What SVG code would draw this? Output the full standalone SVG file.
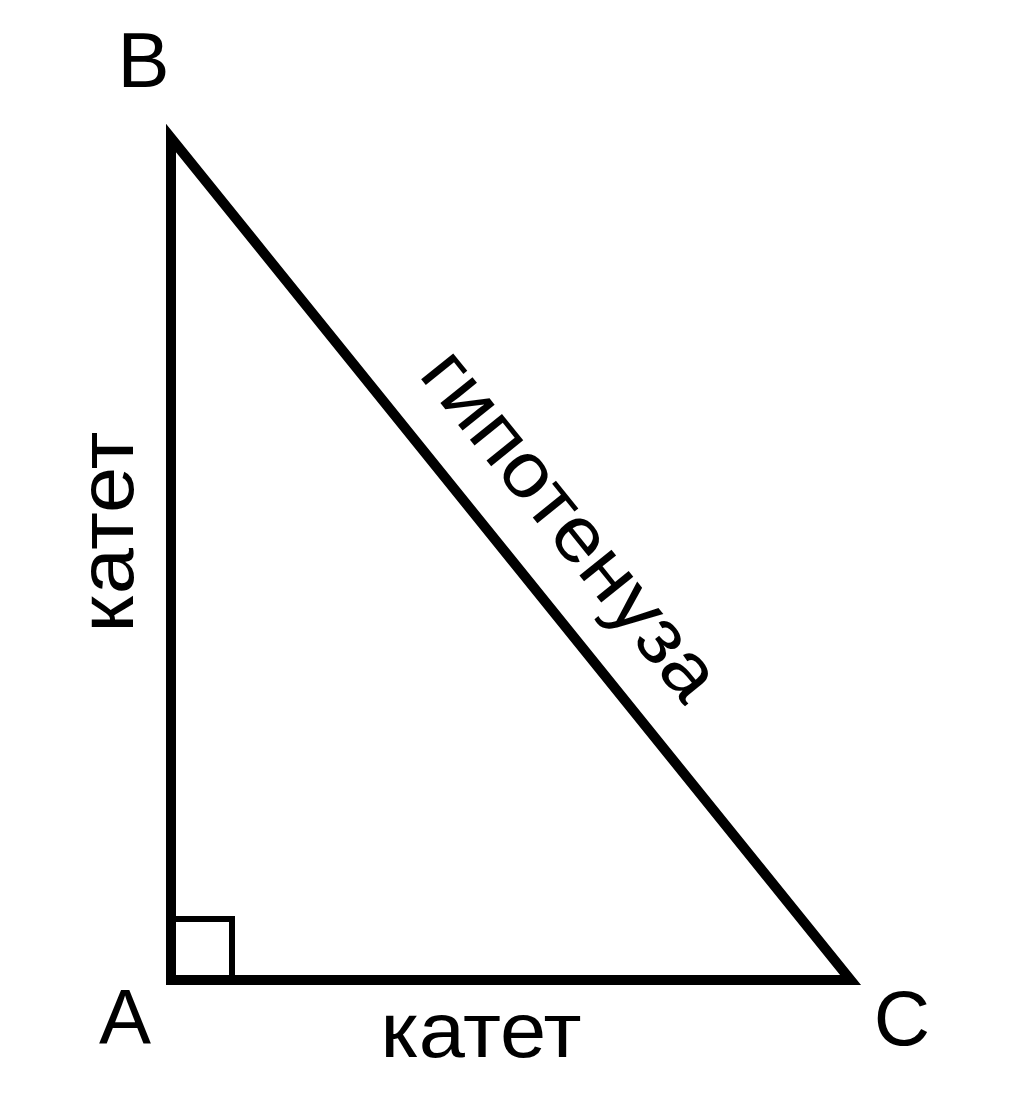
<svg xmlns="http://www.w3.org/2000/svg" width="1014" height="1094" viewBox="0 0 1014 1094">
<style>
.lbl{font-family:"Liberation Sans","Noto Sans",sans-serif;font-size:78px;fill:#000;text-anchor:middle}
.edge{fill:none;stroke:#000;stroke-linejoin:miter;stroke-miterlimit:10}
</style>
<rect width="1014" height="1094" fill="#fff"/>
<g id="connectors">
<polygon class="edge" points="171,980 171,138 850.6,980" stroke-width="10"/>
<path id="right-angle" class="edge" d="M171,919 H232 V980" stroke-width="6"/>
</g>
<g id="node-B"><text class="lbl" x="143.5" y="87">B</text></g>
<g id="node-A"><text class="lbl" x="125" y="1044">A</text></g>
<g id="node-C"><text class="lbl" x="902" y="1045">C</text></g>
<g id="label-leg-left"><text class="lbl" transform="translate(133,532) rotate(-90)" x="0" y="0" textLength="201" lengthAdjust="spacingAndGlyphs">катет</text></g>
<g id="label-leg-bottom"><text class="lbl" x="481" y="1057" textLength="201" lengthAdjust="spacingAndGlyphs">катет</text></g>
<g id="label-hypotenuse"><text class="lbl" transform="translate(551.2,540.5) rotate(51.1)" x="0" y="0" textLength="426" lengthAdjust="spacingAndGlyphs">гипотенуза</text></g>
</svg>
